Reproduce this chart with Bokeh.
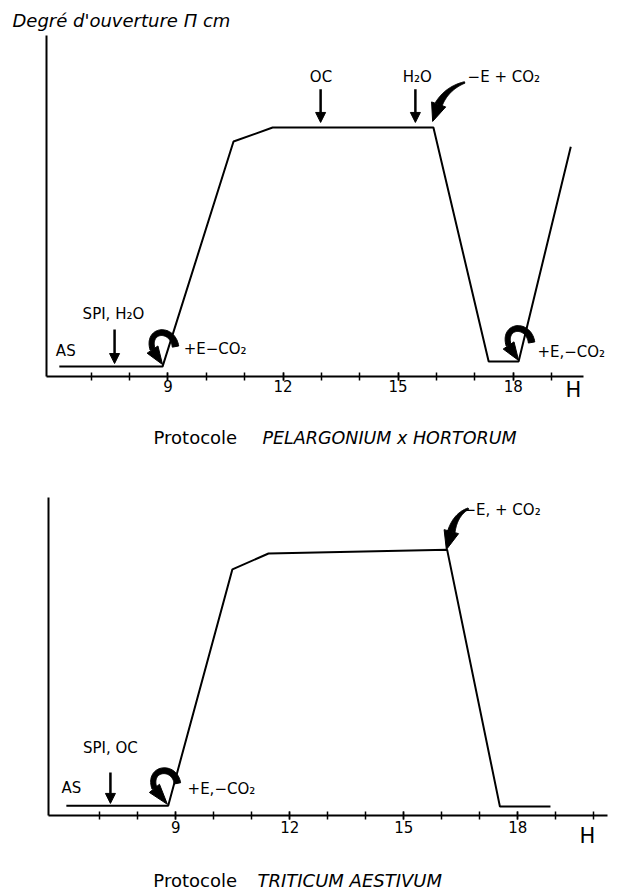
import numpy as np
from bokeh.plotting import figure
from bokeh.layouts import column
from bokeh.models import Range1d, LinearAxis, FixedTicker, Label, Arrow, NormalHead
from bokeh.embed import file_html
from bokeh.resources import INLINE

# ---------------- data ----------------
# Protocole PELARGONIUM x HORTORUM : heure (H) / degré d'ouverture
pel_hours = [6.17, 8.86, 10.71, 11.73, 15.92, 17.36, 18.14, 19.50]
pel_open = [0.29, 0.29, 6.89, 7.30, 7.30, 0.44, 0.44, 6.74]
# Protocole TRITICUM AESTIVUM
tri_hours = [6.12, 8.80, 10.49, 11.44, 16.14, 17.53, 18.86]
tri_open = [0.31, 0.31, 7.74, 8.24, 8.36, 0.28, 0.28]

pel_ticks = list(range(7, 20))
tri_ticks = list(range(7, 21))
labelled_hours = [9, 12, 15, 18]
pel_axis_span = (5.836, 19.83)
tri_axis_span = (5.65, 20.36)
open_span = (0, 10)

# straight arrows (x, y start, y end) and their texts
pel_arrow_x = [7.61, 12.98, 15.45]
pel_arrow_y0 = [1.38, 8.42, 8.42]
pel_arrow_y1 = [0.38, 7.45, 7.45]
pel_arrow_text = ["SPI, H₂O", "OC", "H₂O"]
pel_arrow_text_x = [7.58, 12.99, 15.50]
pel_arrow_text_y = [1.82, 8.77, 8.77]

tri_arrow_x = [7.28]
tri_arrow_y0 = [1.35]
tri_arrow_y1 = [0.38]
tri_arrow_text = ["SPI, OC"]
tri_arrow_text_x = [7.28]
tri_arrow_text_y = [2.11]

# left-aligned texts
pel_notes = ["AS", "+E−CO₂", "+E,−CO₂", "−E + CO₂"]
pel_notes_x = [6.08, 9.41, 18.63, 16.81]
pel_notes_y = [0.76, 0.82, 0.73, 8.77]
tri_notes = ["AS", "+E,−CO₂", "−E, + CO₂"]
tri_notes_x = [5.99, 9.31, 16.57]
tri_notes_y = [0.85, 0.82, 9.62]

# tips of the curled / curved arrows (data coords)
pel_loop_tips = [(8.86, 0.35), (18.14, 0.47)]
pel_curve_tips = [(15.90, 7.48)]
tri_loop_tips = [(8.78, 0.35)]
tri_curve_tips = [(16.12, 8.36)]

FONT = "DejaVu Sans"
W = 623
SCALES = {}


def make_fig(name, height, xr, yr, xspan, ticks, standoff):
    p = figure(width=W, height=height, x_range=Range1d(*xr), y_range=Range1d(*yr),
               output_backend="svg", toolbar_location=None, title=None,
               x_axis_location=None, y_axis_location=None,
               min_border_left=0, min_border_right=0, min_border_top=0, min_border_bottom=0)
    p.outline_line_color = None
    p.background_fill_color = "white"
    p.border_fill_color = "white"
    p.grid.visible = False
    xa = LinearAxis(ticker=FixedTicker(ticks=labelled_hours, minor_ticks=ticks),
                    fixed_location=open_span[0], bounds=xspan,
                    axis_line_width=2, axis_line_color="black",
                    major_tick_in=4, major_tick_out=4, major_tick_line_width=1.5,
                    minor_tick_in=4, minor_tick_out=4, minor_tick_line_width=1.5,
                    minor_tick_line_color="black",
                    major_label_text_font=FONT, major_label_text_font_size="15px",
                    major_label_text_color="black", major_label_standoff=standoff)
    p.add_layout(xa, "below")
    ya = LinearAxis(ticker=FixedTicker(ticks=[]), fixed_location=xspan[0], bounds=open_span,
                    axis_line_width=2, axis_line_color="black",
                    major_tick_line_color=None, minor_tick_line_color=None,
                    major_label_text_font_size="0px")
    p.add_layout(ya, "left")
    SCALES[name] = (W / (xr[1] - xr[0]), height / (yr[1] - yr[0]))
    return p


def label(p, x, y, text, size="15px", align="left", style="normal"):
    p.add_layout(Label(x=x, y=y, text=text, text_font=FONT, text_font_size=size,
                       text_align=align, text_baseline="middle", text_font_style=style,
                       text_color="black"))


def bez(pts, t):
    pts = np.asarray(pts, float)
    n = len(pts) - 1
    if n == 2:
        b = ((1 - t) ** 2)[:, None] * pts[0] + (2 * (1 - t) * t)[:, None] * pts[1] + (t ** 2)[:, None] * pts[2]
    else:
        b = (((1 - t) ** 3)[:, None] * pts[0] + (3 * (1 - t) ** 2 * t)[:, None] * pts[1]
             + (3 * (1 - t) * t ** 2)[:, None] * pts[2] + (t ** 3)[:, None] * pts[3])
    return b


def curved_arrow(p, name, tip, pts, w0, w1, head_hw):
    """pts: curve control points as pixel offsets from the tip (dx right, dy down)."""
    sx, sy = SCALES[name]
    t = np.linspace(0, 1, 40)
    b = bez(pts, t)
    d = np.gradient(b, axis=0)
    d /= np.linalg.norm(d, axis=1)[:, None]
    nrm = np.stack([-d[:, 1], d[:, 0]], axis=1)
    w = (w0 + (w1 - w0) * t)[:, None] / 2
    poly = np.concatenate([b + nrm * w, (b - nrm * w)[::-1]])
    p.patch(tip[0] + poly[:, 0] / sx, tip[1] - poly[:, 1] / sy, color="black")
    end = b[-1]
    dirv = -end / np.linalg.norm(end)
    perp = np.array([-dirv[1], dirv[0]])
    tri = np.array([[0.0, 0.0], end + perp * head_hw, end - perp * head_hw])
    p.patch(tip[0] + tri[:, 0] / sx, tip[1] - tri[:, 1] / sy, color="black")


# ---------------- top chart ----------------
top = make_fig("top", 456, (4.637, 20.874), (-2.346, 11.026), pel_axis_span, pel_ticks, 0)
top.line(pel_hours, pel_open, line_color="black", line_width=2)
for x, y0, y1 in zip(pel_arrow_x, pel_arrow_y0, pel_arrow_y1):
    top.add_layout(Arrow(end=NormalHead(size=10, fill_color="black", line_color="black"),
                         x_start=x, y_start=y0, x_end=x, y_end=y1, line_width=2.5))
for x, y, s in zip(pel_arrow_text_x, pel_arrow_text_y, pel_arrow_text):
    label(top, x, y, s, align="center")
for x, y, s in zip(pel_notes_x, pel_notes_y, pel_notes):
    label(top, x, y, s)
for tip in pel_loop_tips:
    curved_arrow(top, "top", tip, [(13, -18), (10, -38), (-16, -36), (-10, -15)], 6.5, 5, 6.5)
for tip in pel_curve_tips:
    curved_arrow(top, "top", tip, [(32, -39), (14, -33), (6, -17)], 1.5, 7.5, 7.5)
label(top, 4.95, 10.44, "Degré d'ouverture Π cm", size="18px", style="italic")
label(top, 19.57, -0.41, "H", size="21px", align="center")
label(top, 8.625, -1.79, "Protocole", size="18px")
label(top, 11.465, -1.79, "PELARGONIUM x HORTORUM", size="17.5px", style="italic")

# ---------------- bottom chart ----------------
bot = make_fig("bot", 435, (4.387, 20.782), (-2.390, 11.289), tri_axis_span, tri_ticks, 2)
bot.line(tri_hours, tri_open, line_color="black", line_width=2)
for x, y0, y1 in zip(tri_arrow_x, tri_arrow_y0, tri_arrow_y1):
    bot.add_layout(Arrow(end=NormalHead(size=10, fill_color="black", line_color="black"),
                         x_start=x, y_start=y0, x_end=x, y_end=y1, line_width=2.5))
for x, y, s in zip(tri_arrow_text_x, tri_arrow_text_y, tri_arrow_text):
    label(bot, x, y, s, align="center")
for x, y, s in zip(tri_notes_x, tri_notes_y, tri_notes):
    label(bot, x, y, s)
for tip in tri_loop_tips:
    curved_arrow(bot, "bot", tip, [(10, -21), (7, -40), (-20, -37), (-13, -16)], 6.5, 5, 6.5)
for tip in tri_curve_tips:
    curved_arrow(bot, "bot", tip, [(22, -41), (9, -35), (5, -18)], 1.5, 7.5, 7.5)
label(bot, 19.83, -0.66, "H", size="21px", align="center")
label(bot, 8.41, -2.04, "Protocole", size="18px")
label(bot, 11.15, -2.04, "TRITICUM AESTIVUM", size="18px", style="italic")

layout = column(top, bot, spacing=0)
open("out.html", "w").write(file_html(layout, INLINE))
